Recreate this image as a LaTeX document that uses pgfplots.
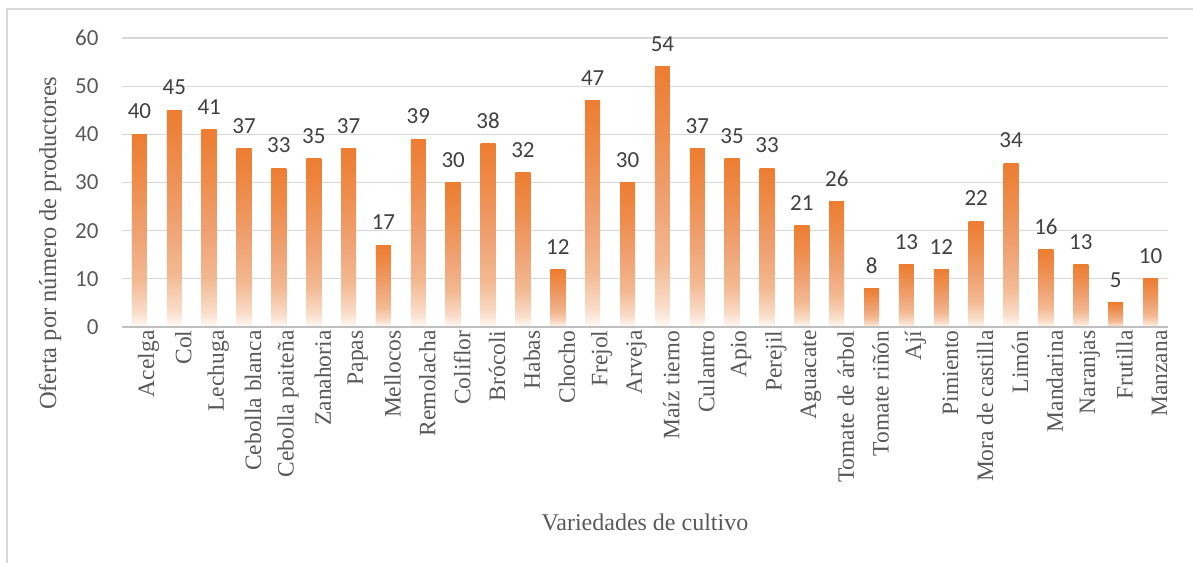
\documentclass[border=0pt]{standalone}
\usepackage{pgfplots}
\usepackage{pgfplotstable}
\pgfplotsset{compat=1.18}
\usepackage{fontspec}
\setmainfont{Liberation Serif}
\newfontfamily\carlito{Carlito}
\definecolor{barorange}{HTML}{ED7D31}
\definecolor{s1}{HTML}{F9DCC8}
\definecolor{s2}{HTML}{F3B890}
\definecolor{s3}{HTML}{EFA070}
\definecolor{s4}{HTML}{EE8D4C}
\definecolor{gridgray}{HTML}{D9D9D9}
\definecolor{axisgray}{HTML}{BFBFBF}
\definecolor{txtgray}{HTML}{595959}
\definecolor{lblgray}{HTML}{404040}
\pgfdeclareverticalshading{barfade}{100bp}{color(0bp)=(white); color(25bp)=(white!96!barorange); color(29bp)=(s1); color(37.5bp)=(s2); color(50bp)=(s3); color(62.5bp)=(s4); color(75bp)=(barorange); color(100bp)=(barorange)}
\pgfplotstableread{
x y
0 40
1 45
2 41
3 37
4 33
5 35
6 37
7 17
8 39
9 30
10 38
11 32
12 12
13 47
14 30
15 54
16 37
17 35
18 33
19 21
20 26
21 8
22 13
23 12
24 22
25 34
26 16
27 13
28 5
29 10
}\datatable
\begin{document}
\begin{tikzpicture}
\path[use as bounding box] (-122bp,-236bp) rectangle (1071bp,327bp);
\draw[color=gridgray, line width=1.2bp] (-115bp,-236bp) -- (-115bp,318bp) -- (1071bp,318bp);
\begin{axis}[
  at={(0,0)}, anchor=south west,
  scale only axis,
  width=1046bp, height=289bp,
  xmin=-0.5, xmax=29.5,
  ymin=0, ymax=60,
  ytick={0,10,20,30,40,50,60},
  xtick={0,...,29},
  xticklabels={Acelga, Col, Lechuga, Cebolla blanca, Cebolla paiteña, Zanahoria, Papas, Mellocos, Remolacha, Coliflor, Brócoli, Habas, Chocho, Frejol, Arveja, Maíz tierno, Culantro, Apio, Perejil, Aguacate, Tomate de árbol, Tomate riñón, Ají, Pimiento, Mora de castilla, Limón, Mandarina, Naranjas, Frutilla, Manzana},
  axis line style={draw=none},
  major tick length=0pt,
  tick style={draw=none},
  ymajorgrids,
  grid style={color=gridgray, line width=1.2bp},
  /pgf/number format/assume math mode=true,
  yticklabel style={font=\carlito\fontsize{23bp}{27bp}\selectfont, text=txtgray, anchor=east, xshift=-20bp},
  xticklabel style={font=\fontsize{23.5bp}{27bp}\selectfont, text=txtgray, rotate=90, anchor=east, yshift=-9bp},
  xlabel={Variedades de cultivo},
  ylabel={Oferta por número de productores},
  xlabel style={font=\fontsize{24bp}{28bp}\selectfont, text=txtgray, at={(axis description cs:0.5,0)}, anchor=center, yshift=-195bp},
  ylabel style={font=\fontsize{24.5bp}{28bp}\selectfont, text=txtgray, at={(axis description cs:0,0.29)}, anchor=center, yshift=72bp},
  ybar, bar width=15bp, bar shift=0pt,
  nodes near coords,
  every node near coord/.append style={font=\carlito\fontsize{23bp}{27bp}\selectfont, text=lblgray, anchor=south, inner sep=0pt, yshift=15bp},
  clip=false,
]
\pgfplotsinvokeforeach{0,...,29}{
  \addplot[draw=none, shading=barfade, bar shift=0pt, restrict x to domain=#1:#1] table[x=x, y=y] {\datatable};
}
\draw[color=axisgray, line width=1.5bp] (rel axis cs:0,0) -- (rel axis cs:1,0);
\end{axis}
\end{tikzpicture}
\end{document}
